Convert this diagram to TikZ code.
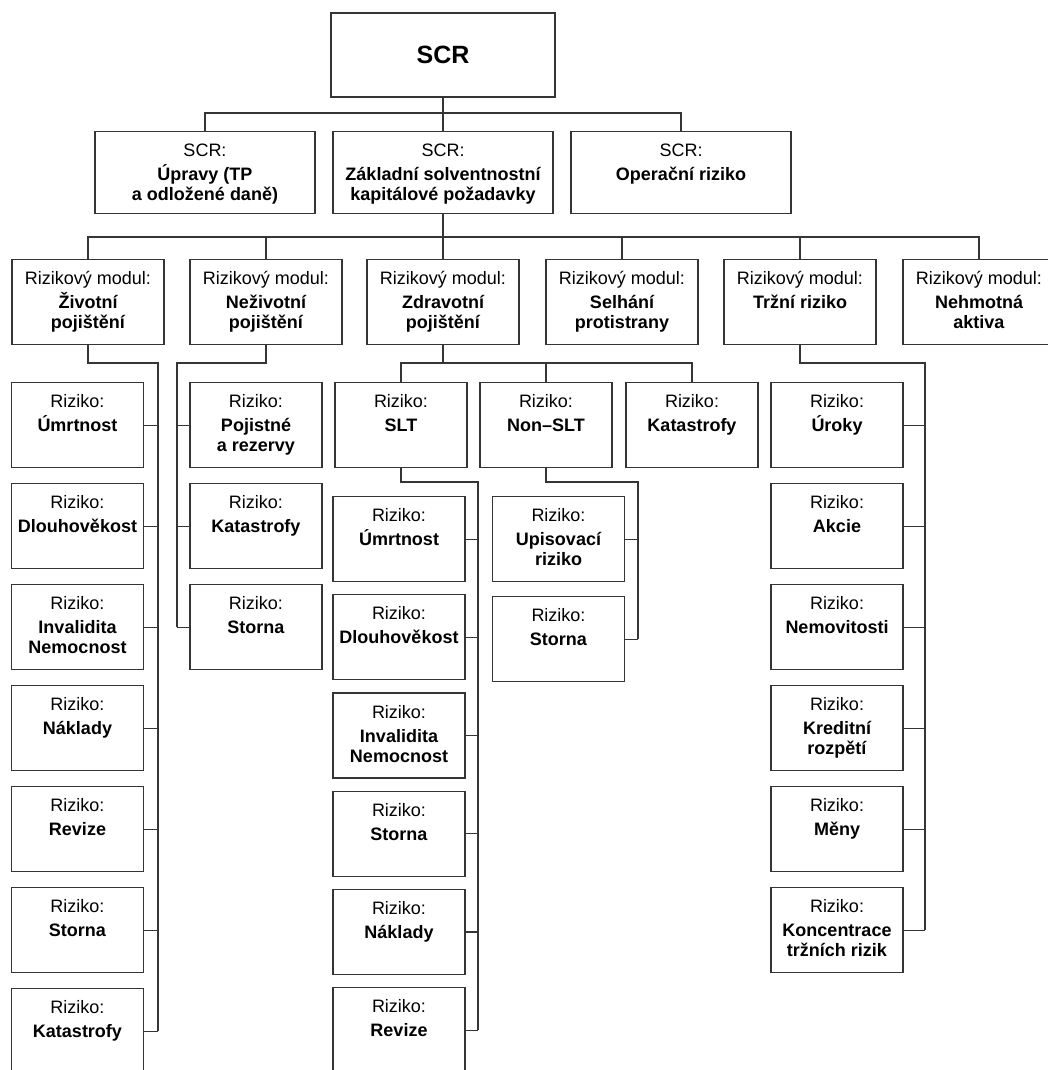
\documentclass[tikz,border=0pt]{standalone}
\usepackage{fontspec}
\setmainfont{Liberation Sans}
\usetikzlibrary{calc}

\definecolor{linecol}{HTML}{353535}
% box text: top aligned, first line regular, then bold lines
\newcommand{\boxtxt}[4]{\parbox[c][#2][t]{#1}{\centering\rule{0pt}{25pt}#3\\[4pt]\textbf{#4}}}
\newcommand{\riz}[1]{\boxtxt{132pt}{85pt}{Riziko:}{#1}}
\newcommand{\modul}[1]{\boxtxt{152pt}{85pt}{Rizikový modul:}{#1}}
\newcommand{\scrpart}[1]{\boxtxt{220pt}{82pt}{SCR:}{#1}}

\tikzset{
  box/.style={draw=linecol, line width=1.2pt, inner sep=0pt, anchor=north},
  conn/.style={draw=linecol, line width=1.2pt},
}

\begin{document}
\begin{tikzpicture}[x=1pt,y=-1pt,font=\fontsize{18}{20}\selectfont]
\useasboundingbox (0,0) rectangle (1047,1070);

% top
\node[box,minimum width=224pt,minimum height=84pt,anchor=center,font=\fontsize{25}{28}\selectfont\bfseries] (scr) at (443,55) {SCR};

% SCR parts
\node[box] (upr) at (205,131) {\scrpart{Úpravy (TP\\a odložené daně)}};
\node[box] (zakl) at (443,131) {\scrpart{Základní solventnostní\\kapitálové požadavky}};
\node[box] (oper) at (681,131) {\scrpart{Operační riziko}};

% risk modules
\node[box] (zivot) at (88,259) {\modul{Životní\\pojištění}};
\node[box] (neziv) at (266,259) {\modul{Neživotní\\pojištění}};
\node[box] (zdrav) at (443,259) {\modul{Zdravotní\\pojištění}};
\node[box] (selh) at (622,259) {\modul{Selhání\\protistrany}};
\node[box] (trzni) at (800,259) {\modul{Tržní riziko}};
\node[box] (nehm) at (979,259) {\modul{Nehmotná\\aktiva}};

% life
\foreach \t [count=\i] in {Úmrtnost,Dlouhověkost,{Invalidita\\Nemocnost},Náklady,Revize,Storna,Katastrofy}
  \node[box] (z\i) at (77.5,{382+101*(\i-1)}) {\riz{\t}};

% non-life
\foreach \t [count=\i] in {{Pojistné\\a rezervy},Katastrofy,Storna}
  \node[box] (n\i) at (256,{382+101*(\i-1)}) {\riz{\t}};

% health
\node[box] (slt) at (401,382) {\riz{SLT}};
\node[box] (nslt) at (546,382) {\riz{Non–SLT}};
\node[box] (hkat) at (692,382) {\riz{Katastrofy}};
\foreach \t [count=\i] in {Úmrtnost,Dlouhověkost,{Invalidita\\Nemocnost},Storna,Náklady,Revize}
  \node[box] (s\i) at (399,{496+98.2*(\i-1)}) {\riz{\t}};
\foreach \t [count=\i] in {{Upisovací\\riziko},Storna}
  \node[box] (u\i) at (558.5,{496+100*(\i-1)}) {\riz{\t}};

% market
\foreach \t [count=\i] in {Úroky,Akcie,Nemovitosti,{Kreditní\\rozpětí},Měny,{Koncentrace\\tržních rizik}}
  \node[box] (m\i) at (837,{382+101*(\i-1)}) {\riz{\t}};

% connectors
\coordinate (bus1) at (443,113);
\draw[conn] (scr.south) -- (bus1);
\draw[conn] (upr.north) |- (bus1) -| (oper.north);
\draw[conn] (zakl.north) -- (bus1);

\coordinate (bus2) at (443,237);
\draw[conn] (zakl.south) -- (bus2);
\draw[conn] (zivot.north) |- (bus2) -| (nehm.north);
\foreach \n in {neziv,zdrav,selh,trzni}
  \draw[conn] (\n.north) -- (\n.north |- bus2);

\coordinate (zbus) at (158,363);
\draw[conn] (zivot.south) |- (zbus) -- (zbus |- z7.east);
\foreach \i in {1,...,7}
  \draw[conn] (z\i.east) -- (z\i.east -| zbus);

\coordinate (nbus) at (177,363);
\draw[conn] (neziv.south) |- (nbus) -- (nbus |- n3.west);
\foreach \i in {1,2,3}
  \draw[conn] (n\i.west) -- (n\i.west -| nbus);

\coordinate (hbus) at (443,363);
\draw[conn] (zdrav.south) -- (hbus);
\draw[conn] (slt.north) |- (hbus) -| (hkat.north);
\draw[conn] (nslt.north) -- (nslt.north |- hbus);

\coordinate (sbus) at (478,482);
\draw[conn] (slt.south) |- (sbus) -- (sbus |- s6.east);
\foreach \i in {1,...,6}
  \draw[conn] (s\i.east) -- (s\i.east -| sbus);

\coordinate (ubus) at (638,482);
\draw[conn] (nslt.south) |- (ubus) -- (ubus |- u2.east);
\foreach \i in {1,2}
  \draw[conn] (u\i.east) -- (u\i.east -| ubus);

\coordinate (mbus) at (925,363);
\draw[conn] (trzni.south) |- (mbus) -- (mbus |- m6.east);
\foreach \i in {1,...,6}
  \draw[conn] (m\i.east) -- (m\i.east -| mbus);

\end{tikzpicture}
\end{document}
